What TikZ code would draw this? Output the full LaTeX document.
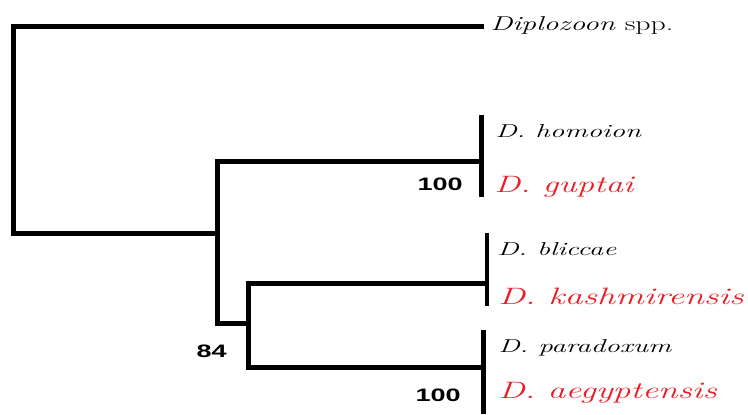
\documentclass[tikz,border=0pt]{standalone}
\usepackage{fontspec}
\usepackage{graphicx}
\setsansfont{Liberation Sans}
\usetikzlibrary{calc}
\definecolor{newsp}{RGB}{236,28,36}
\newcommand{\wide}[2]{\scalebox{#1}[1]{#2}}

\begin{document}
\begin{tikzpicture}[x=0.75pt,y=-0.75pt,
    branch/.style={line width=3.75pt},
    thinbar/.style={line width=2.4pt},
    taxon/.style={anchor=base west,inner sep=0pt},
    small/.style={font=\rmfamily\itshape\fontsize{14}{14}\selectfont},
    large/.style={font=\rmfamily\itshape\fontsize{17.8}{17.8}\selectfont,text=newsp},
    support/.style={anchor=base east,inner sep=0pt,font=\sffamily\bfseries\fontsize{13.5}{13.5}\selectfont}]
    \useasboundingbox (0,0) rectangle (748,414);

    % internal nodes
    \coordinate (root) at (13,233);
    \coordinate (n1) at (217,233);
    \coordinate (n2) at (248,323);

    % tips and bars
    \coordinate (dip) at (484,26);
    \coordinate (c1) at (481,161);
    \coordinate (c1a) at (481,115);
    \coordinate (c1b) at (481,197);
    \coordinate (c2) at (487,283);
    \coordinate (c2a) at (487,233);
    \coordinate (c2b) at (487,306);
    \coordinate (c3) at (483,367);
    \coordinate (c3a) at (483,330);
    \coordinate (c3b) at (483,414);

    \draw[branch] (dip) -| (root) -- (n1);
    \draw[branch] (c1) -| (n1) |- (n2);
    \draw[branch] (c2) -| (n2) |- (c3);
    \draw[branch] (c1a) -- (c1b);
    \draw[thinbar] (c2a) -- (c2b);
    \draw[branch] (c3a) -- (c3b);

    % labels
    \node[taxon,font=\rmfamily\fontsize{15}{15}\selectfont] (tdip) at (490,30)
        {\wide{1.49}{\textit{Diplozoon} spp.}};
    \node[taxon,small] (thom) at (495,137) {\wide{1.55}{D. homoion}};
    \node[taxon,large] (tgup) at (494,192) {\wide{1.47}{D. guptai}};
    \node[taxon,small] (tbli) at (497,255) {\wide{1.54}{D. bliccae}};
    \node[taxon,large] (tkas) at (498,304) {\wide{1.52}{D. kashmirensis}};
    \node[taxon,small] (tpar) at (498,352) {\wide{1.55}{D. paradoxum}};
    \node[taxon,large] (taeg) at (498,398) {\wide{1.5}{D. aegyptensis}};

    % bootstrap values
    \node[support] (b1) at (463,190) {\wide{1.5}{100}};
    \node[support] (b2) at (227,357) {\wide{1.5}{84}};
    \node[support] (b3) at (461,401) {\wide{1.5}{100}};
\end{tikzpicture}
\end{document}
